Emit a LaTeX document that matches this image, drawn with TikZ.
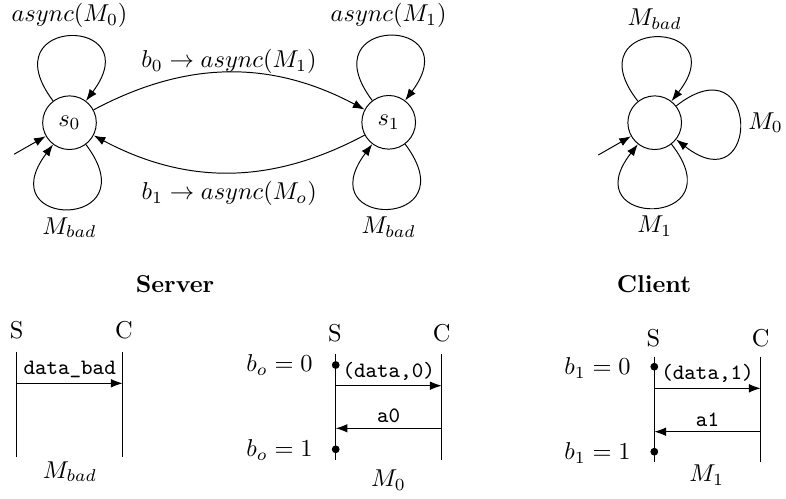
\documentclass[tikz,border=0pt]{standalone}
\usetikzlibrary{arrows.meta}
\tikzset{
  st/.style={circle,draw,minimum size=22pt,inner sep=0pt},
  tr/.style={-{Latex[length=4.8pt,width=3.5pt]}},
  selfloop/.style={tr,distance=44pt},
  msg/.style={-{Latex[length=4.8pt,width=3.5pt]}},
  bit/.style={circle,fill,inner sep=0pt,minimum size=3.2pt},
  wire/.style={font=\ttfamily\small,inner sep=2pt},
  heading/.style={font=\bfseries},
}

\begin{document}
\begin{tikzpicture}[x=0.41pt,y=0.41pt]
\useasboundingbox (0,0) rectangle (786,-498);

% ---------------------------------------------------------------- server
\node[st] (s0) at (69.5,-122.7) {$s_0$};
\node[st] (s1) at (388.7,-122.3) {$s_1$};
\coordinate (in0) at (14,-154.3);
\draw[tr] (in0) -- (s0);
\draw[selfloop] (s0) to[out=127,in=53] node[above] {$async(M_0)$} (s0);
\draw[selfloop] (s0) to[out=-53,in=-127] node[below] {$M_{bad}$} (s0);
\draw[selfloop] (s1) to[out=127,in=53] node[above] {$async(M_1)$} (s1);
\draw[selfloop] (s1) to[out=-53,in=-127] node[below] {$M_{bad}$} (s1);
\draw[tr] (s0) to[bend left=28] node[above=-2pt,inner sep=1.3pt] {$b_0 \rightarrow async(M_1)$} (s1);
\draw[tr] (s1) to[bend left=28] node[below] {$b_1 \rightarrow async(M_o)$} (s0);
\node[heading] (server) at (175,-284) {Server};

% ---------------------------------------------------------------- client
\node[st] (cl) at (654.7,-122.7) {};
\coordinate (in1) at (598.3,-155);
\draw[tr] (in1) -- (cl);
\draw[selfloop] (cl) to[out=128,in=52] node[above] {$M_{bad}$} (cl);
\draw[selfloop] (cl) to[out=38,in=-38] node[right] {$M_0$} (cl);
\draw[selfloop] (cl) to[out=-52,in=-128] node[below] {$M_1$} (cl);
\node[heading] (client) at (654,-284) {Client};

% ---------------------------------------------------------------- M_bad chart
\node (sa) at (16.7,-330) {S};
\node (ca) at (124,-330) {C};
\coordinate (sa top) at (16.7,-351.7);
\coordinate (sa bot) at (16.7,-456.7);
\coordinate (ca top) at (122.7,-351.7);
\coordinate (ca bot) at (122.7,-456.7);
\draw (sa top) -- (sa bot);
\draw (ca top) -- (ca bot);
\coordinate (sa m) at (16.7,-383.3);
\coordinate (ca m) at (122.7,-383.3);
\draw[msg] (sa m) -- node[wire,above] {data\_bad} (ca m);
\node (mbad) at (70,-471.7) {$M_{bad}$};

% ---------------------------------------------------------------- M_0 chart
\node (sb) at (335,-333) {S};
\node (cb) at (441.7,-333) {C};
\coordinate (sb top) at (335.7,-354);
\coordinate (sb bot) at (335.7,-460);
\coordinate (cb top) at (441.7,-354);
\coordinate (cb bot) at (441.7,-460);
\draw (sb top) -- (sb bot);
\draw (cb top) -- (cb bot);
\node[bit] (sb b0) at (335.7,-365) {};
\node[bit] (sb b1) at (335.7,-449.3) {};
\node (bo0) at (279.5,-365) {$b_o = 0$};
\node (bo1) at (279.5,-450) {$b_o = 1$};
\coordinate (sb m) at (335.7,-385.7);
\coordinate (cb m) at (441.7,-385.7);
\coordinate (sb a) at (335.7,-428.3);
\coordinate (cb a) at (441.7,-428.3);
\draw[msg] (sb m) -- node[wire,above] {(data,0)} (cb m);
\draw[msg] (cb a) -- node[wire,above] {a0} (sb a);
\node (m0) at (388.5,-480) {$M_0$};

% ---------------------------------------------------------------- M_1 chart
\node (sc) at (653.3,-338) {S};
\node (cc) at (760.7,-338) {C};
\coordinate (sc top) at (654.3,-356.7);
\coordinate (sc bot) at (654.3,-461.7);
\coordinate (cc top) at (760.7,-356.7);
\coordinate (cc bot) at (760.7,-461.7);
\draw (sc top) -- (sc bot);
\draw (cc top) -- (cc bot);
\node[bit] (sc b0) at (654.3,-366.7) {};
\node[bit] (sc b1) at (654.3,-451.7) {};
\node (b10) at (597.5,-368.3) {$b_1 = 0$};
\node (b11) at (597.5,-453.3) {$b_1 = 1$};
\coordinate (sc m) at (654.3,-388.3);
\coordinate (cc m) at (760.7,-388.3);
\coordinate (sc a) at (654.3,-431.7);
\coordinate (cc a) at (760.7,-431.7);
\draw[msg] (sc m) -- node[wire,above] {(data,1)} (cc m);
\draw[msg] (cc a) -- node[wire,above] {a1} (sc a);
\node (m1) at (706.7,-475) {$M_1$};

\end{tikzpicture}
\end{document}
